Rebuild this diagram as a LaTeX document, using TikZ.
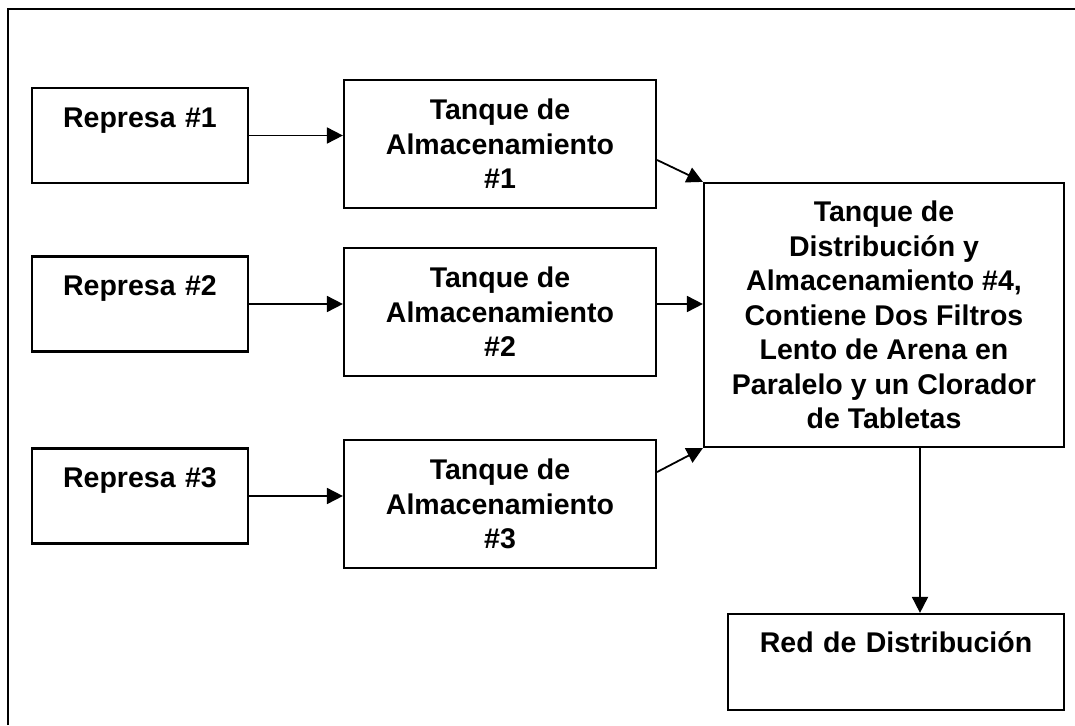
\documentclass[tikz,border=0pt]{standalone}
\usepackage{fontspec}
\setmainfont{Liberation Sans}
\usetikzlibrary{arrows.meta,calc}
\begin{document}
\begin{tikzpicture}[x=1pt,y=-1pt,
  box/.style={draw, line width=2.2pt, align=center, inner sep=0pt,
    font=\fontsize{28.5}{34.5}\bfseries\selectfont},
  conn/.style={line width=1.8pt, -{Triangle[length=16pt,width=16pt]}}]
\useasboundingbox (0,0) rectangle (1075,725);
\draw[line width=2.2pt] (8,725) -- (8,9) -- (1075,9);
% dams
\node (r1) [box, text width=216pt, text height=39pt, text depth=56pt] at (140,135.5) {Represa \#1};
\node (r2) [box, text width=216pt, text height=39pt, text depth=56pt] at (140,304) {Represa \#2};
\node (r3) [box, text width=216pt, text height=39pt, text depth=56pt] at (140,496) {Represa \#3};
% storage tanks
\node (t1) [box, minimum width=312pt, minimum height=128pt] at (500,144) {Tanque de\\Almacenamiento\\\#1};
\node (t2) [box, minimum width=312pt, minimum height=128pt] at (500,312) {Tanque de\\Almacenamiento\\\#2};
\node (t3) [box, minimum width=312pt, minimum height=128pt] at (500,504) {Tanque de\\Almacenamiento\\\#3};
% distribution tank
\node (t4) [box, minimum width=360pt, minimum height=264pt] at (884,315)
  {Tanque de\\Distribución y\\Almacenamiento \#4,\\Contiene Dos Filtros\\Lento de Arena en\\Paralelo y un Clorador\\de Tabletas};
% network
\node (red) [box, text width=336pt, text height=38pt, text depth=58pt] at (896,662) {Red de Distribución};
% connectors
\draw[conn] (r1.east) -- (r1.east -| t1.west);
\draw[conn] (r2.east) -- (r2.east -| t2.west);
\draw[conn] (r3.east) -- (r3.east -| t3.west);
\draw[conn] ([yshift=-16pt]t1.east) -- (t4.north west);
\draw[conn] ([yshift=8pt]t2.east) -- ([yshift=8pt]t2.east -| t4.west);
\draw[conn] ([yshift=32pt]t3.east) -- (t4.south west);
\draw[conn] ([xshift=36pt]t4.south) -- ([xshift=36pt]t4.south |- red.north);
\end{tikzpicture}
\end{document}
